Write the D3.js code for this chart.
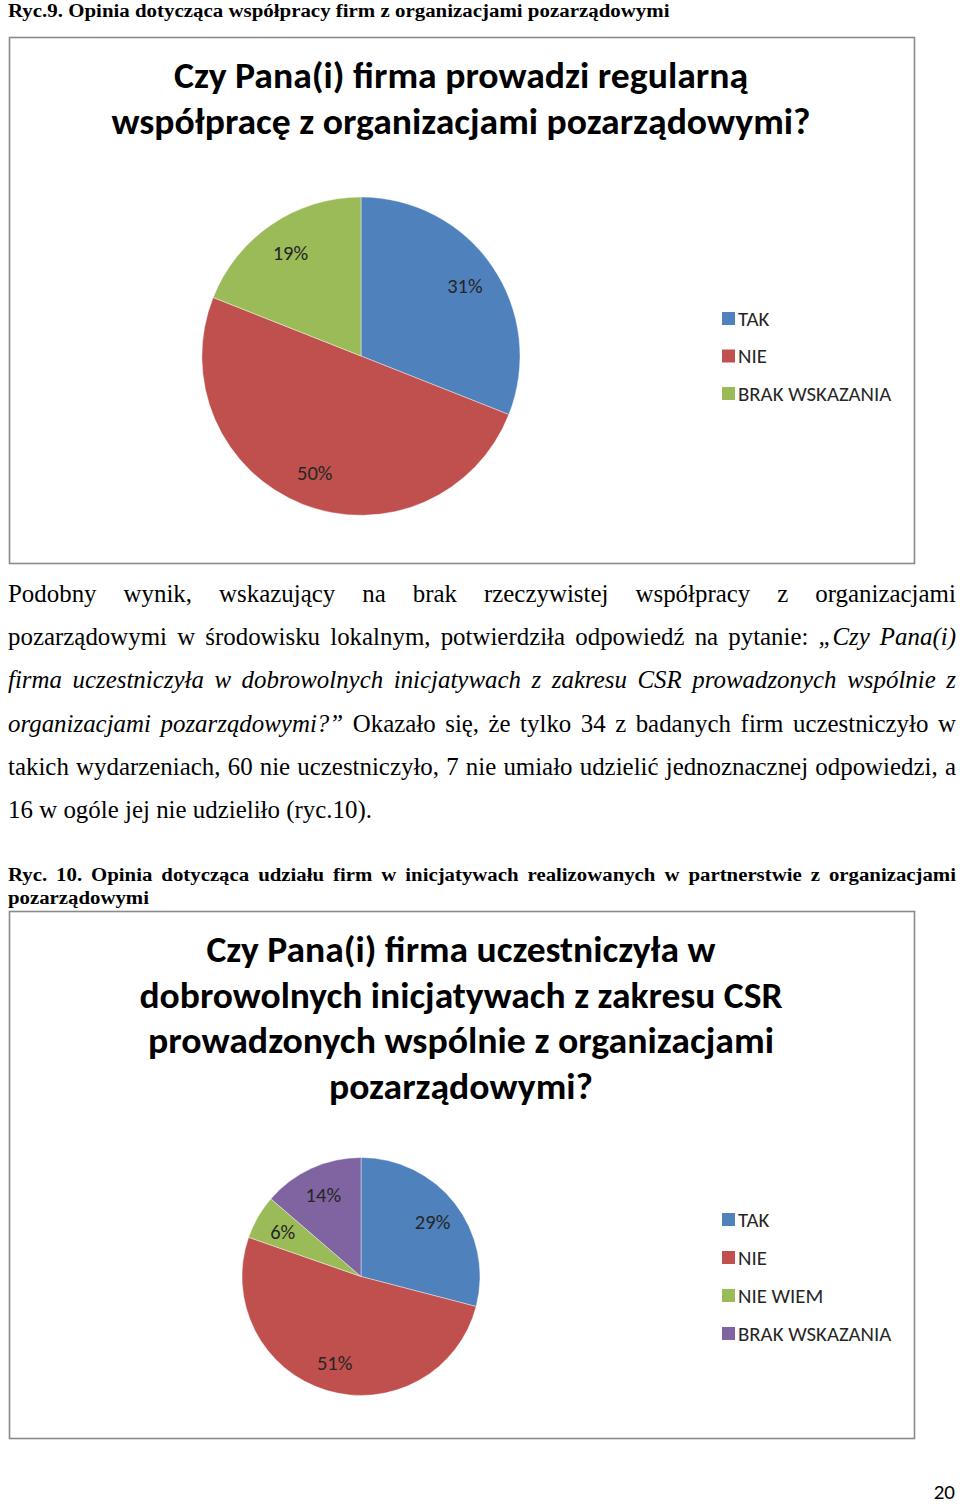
<!DOCTYPE html>
<html><head><meta charset="utf-8">
<script src="https://cdn.jsdelivr.net/npm/d3@7"></script>
<style>html,body{margin:0;padding:0;background:#fff;}svg{display:block;}</style>
</head><body>
<script>
// ---------- DATA ----------
const chart1Title = ["Czy Pana(i) firma prowadzi regularną", "współpracę z organizacjami pozarządowymi?"];
const chart1Categories = ["TAK", "NIE", "BRAK WSKAZANIA"];
const chart1Values = [31, 50, 19];
const chart1Colors = ["#4F81BD", "#C0504D", "#9BBB59"];

const chart2Title = ["Czy Pana(i) firma uczestniczyła w", "dobrowolnych inicjatywach z zakresu CSR", "prowadzonych wspólnie z organizacjami", "pozarządowymi?"];
const chart2Categories = ["TAK", "NIE", "NIE WIEM", "BRAK WSKAZANIA"];
const chart2Values = [34, 60, 7, 16];
const chart2Colors = ["#4F81BD", "#C0504D", "#9BBB59", "#8064A2"];

const caption1 = "Ryc.9. Opinia dotycząca współpracy firm z organizacjami pozarządowymi";
const caption2Lines = ["Ryc. 10. Opinia dotycząca udziału firm w inicjatywach realizowanych w partnerstwie z organizacjami", "pozarządowymi"];
// paragraph: lines of [text, italic]
const paragraph = [
  [["Podobny wynik, wskazujący na brak rzeczywistej współpracy z organizacjami", false]],
  [["pozarządowymi w środowisku lokalnym, potwierdziła odpowiedź na pytanie:", false], ["„Czy Pana(i)", true]],
  [["firma uczestniczyła w dobrowolnych inicjatywach z zakresu CSR prowadzonych wspólnie z", true]],
  [["organizacjami pozarządowymi?”", true], ["Okazało się, że tylko 34 z badanych firm uczestniczyło w", false]],
  [["takich wydarzeniach, 60 nie uczestniczyło, 7 nie umiało udzielić jednoznacznej odpowiedzi, a", false]],
  [["16 w ogóle jej nie udzieliło (ryc.10).", false]]
];
const pageNumber = "20";

// ---------- SETUP ----------
const W = 960, H = 1506;
const svg = d3.select("body").append("svg").attr("width", W).attr("height", H);
svg.append("rect").attr("width", W).attr("height", H).attr("fill", "#fff");

const SERIF = "'Liberation Serif','Times New Roman',serif";
const SANS = "Carlito,Calibri,Lato,sans-serif";

function measure(str, size, weight, style, family) {
  const t = svg.append("text").attr("font-size", size).attr("font-weight", weight)
    .attr("font-style", style).attr("font-family", family).text(str);
  const w = t.node().getComputedTextLength();
  t.remove();
  return w;
}

// Draw words of a line (list of {t, it}) justified or natural, with horizontal scale sx
function drawLine(words, x0, x1, y, size, weight, sx, justify) {
  const widths = words.map(w => measure(w.t, size, weight, w.it ? "italic" : "normal", SERIF) * sx);
  const space = measure("a a", size, weight, "normal", SERIF) - measure("aa", size, weight, "normal", SERIF);
  const total = d3.sum(widths);
  const gap = justify && words.length > 1 ? (x1 - x0 - total) / (words.length - 1) : space * sx;
  let x = x0;
  words.forEach((w, i) => {
    svg.append("text")
      .attr("transform", `translate(${x},${y}) scale(${sx},1)`)
      .attr("font-size", size).attr("font-weight", weight)
      .attr("font-style", w.it ? "italic" : "normal")
      .attr("font-family", SERIF).attr("fill", "#000")
      .text(w.t);
    x += widths[i] + gap;
  });
}
function toWords(segs) {
  const out = [];
  segs.forEach(([s, it]) => s.split(" ").filter(Boolean).forEach(t => out.push({t, it})));
  return out;
}

// ---------- CAPTION 1 ----------
{
  const size = 19.5;
  const nat = measure(caption1, size, "bold", "normal", SERIF);
  const sx = 662 / nat;
  svg.append("text").attr("transform", `translate(8,17) scale(${sx},1)`)
    .attr("font-size", size).attr("font-weight", "bold").attr("font-family", SERIF).text(caption1);
}

// ---------- PARAGRAPH ----------
{
  const size = 25;
  const last = paragraph[paragraph.length - 1].map(s => s[0]).join(" ");
  const sx = 364 / measure(last, size, "normal", "normal", SERIF);
  const baselines = d3.range(paragraph.length).map(i => 602 + i * 43.2);
  paragraph.forEach((segs, i) => {
    drawLine(toWords(segs), 8, 956, baselines[i], size, "normal", sx, i < paragraph.length - 1);
  });
}

// ---------- CAPTION 2 ----------
{
  const size = 19.5;
  const sx = 141 / measure(caption2Lines[1], size, "bold", "normal", SERIF);
  drawLine(toWords([[caption2Lines[0], false]]), 8, 956, 881, size, "bold", sx, true);
  drawLine(toWords([[caption2Lines[1], false]]), 8, 956, 904, size, "bold", sx, false);
}

// ---------- CHARTS ----------
function drawChart(cfg) {
  const g = svg.append("g");
  g.append("rect").attr("x", cfg.frame[0] + 0.5).attr("y", cfg.frame[1] + 0.5)
    .attr("width", cfg.frame[2]).attr("height", cfg.frame[3])
    .attr("fill", "#fff").attr("stroke", "#8a8a8a").attr("stroke-width", 1.6);

  // title
  cfg.title.forEach((line, i) => {
    g.append("text").attr("x", 461).attr("y", cfg.titleBase + i * cfg.titleStep)
      .attr("text-anchor", "middle").attr("font-family", SANS).attr("font-weight", "bold")
      .attr("font-size", 37).attr("fill", "#000")
      .attr("textLength", cfg.titleWidths[i]).attr("lengthAdjust", "spacingAndGlyphs")
      .text(line);
  });

  // pie
  const total = d3.sum(cfg.values);
  const pie = d3.pie().sort(null).value(d => d)(cfg.values);
  const arc = d3.arc().innerRadius(0).outerRadius(cfg.r);
  const labelArc = d3.arc().innerRadius(cfg.r * cfg.lr).outerRadius(cfg.r * cfg.lr);
  const pg = g.append("g").attr("transform", `translate(${cfg.cx},${cfg.cy})`);
  pg.selectAll("path").data(pie).join("path")
    .attr("d", arc).attr("fill", (d, i) => cfg.colors[i])
    .attr("stroke", "#ffffff").attr("stroke-width", 0.6).attr("stroke-opacity", 0.7);
  pg.selectAll("text").data(pie).join("text")
    .attr("transform", d => `translate(${labelArc.centroid(d)})`)
    .attr("text-anchor", "middle").attr("dy", "0.36em")
    .attr("font-family", SANS).attr("font-size", 20.5).attr("fill", "#262626")
    .text(d => Math.round(d.value / total * 100) + "%");

  // legend
  const ly = d3.scalePoint().domain(cfg.cats).range(cfg.legendRange);
  const lg = g.append("g");
  cfg.cats.forEach((c, i) => {
    lg.append("rect").attr("x", 722).attr("y", ly(c) - 6.5).attr("width", 13).attr("height", 13)
      .attr("fill", cfg.colors[i]);
    lg.append("text").attr("x", 738).attr("y", ly(c) + 7)
      .attr("font-family", SANS).attr("font-size", 20.8).attr("fill", "#262626").text(c);
  });
}

drawChart({
  frame: [9, 37, 905, 526],
  title: chart1Title, titleBase: 88, titleStep: 46, titleWidths: [574, 699],
  values: chart1Values, colors: chart1Colors, cats: chart1Categories,
  cx: 361, cy: 356, r: 159, lr: 0.79,
  legendRange: [318.5, 393.5]
});
drawChart({
  frame: [9, 911, 905, 527],
  title: chart2Title, titleBase: 962, titleStep: 45.7, titleWidths: [509, 643, 626, 264],
  values: chart2Values, colors: chart2Colors, cats: chart2Categories,
  cx: 361, cy: 1276.5, r: 119, lr: 0.76,
  legendRange: [1219.5, 1333.5]
});

// page number
svg.append("text").attr("x", 955).attr("y", 1499).attr("text-anchor", "end")
  .attr("font-family", SANS).attr("font-size", 21).attr("fill", "#000").text(pageNumber);
</script>
</body></html>
